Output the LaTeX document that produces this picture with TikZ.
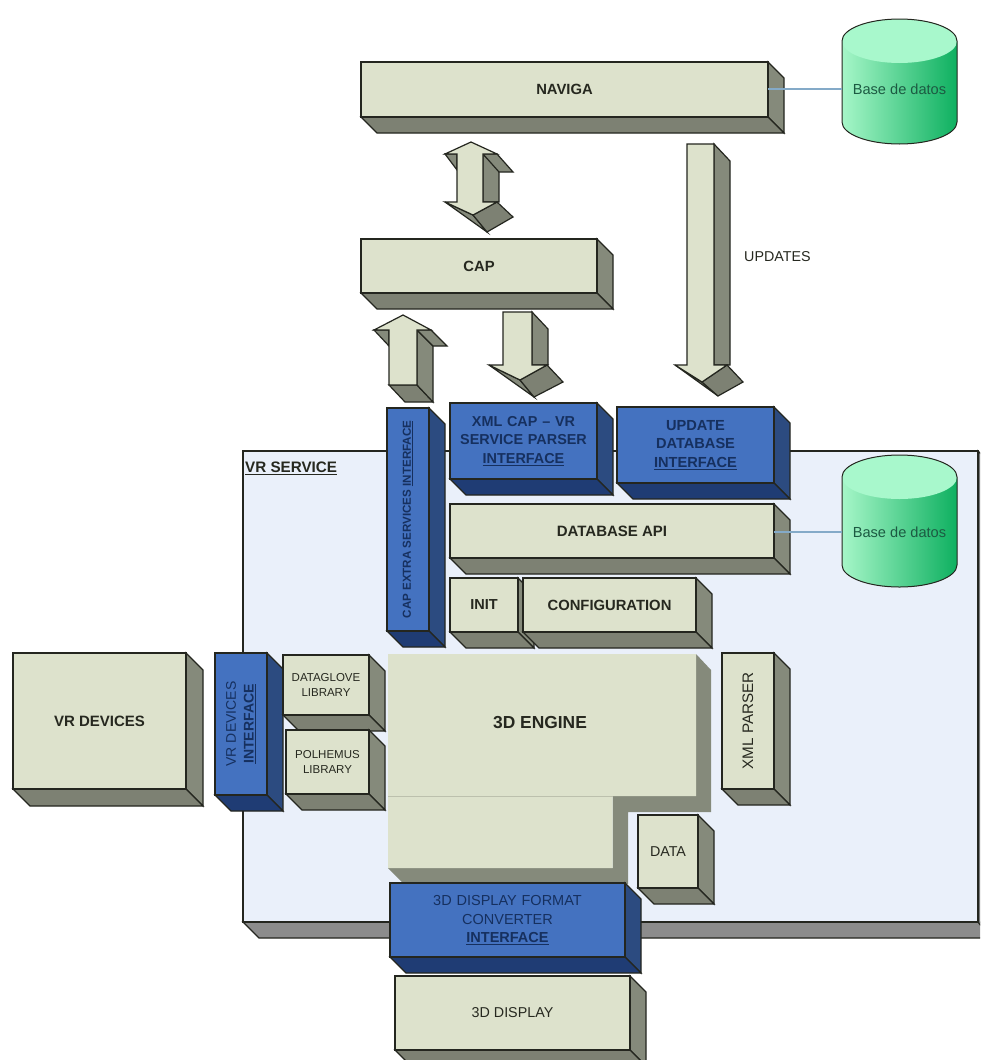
\documentclass[tikz,border=0pt]{standalone}
\usepackage{fontspec}
\setmainfont{Liberation Sans}
\usetikzlibrary{calc}
\definecolor{beige}{HTML}{DDE2CC}
\definecolor{beigeS}{HTML}{858A7B}
\definecolor{beigeB}{HTML}{7D8173}
\definecolor{blueF}{HTML}{4472C0}
\definecolor{blueS}{HTML}{2C4B80}
\definecolor{blueB}{HTML}{1F3C74}
\definecolor{blueT}{HTML}{16305F}
\definecolor{edgeC}{HTML}{24261F}
\definecolor{dbline}{HTML}{84AAC8}
\definecolor{txt}{HTML}{26281F}
\definecolor{dbtxt}{HTML}{1C5A42}
\definecolor{dbL}{RGB}{166,246,200}
\definecolor{dbM}{RGB}{112,232,164}
\definecolor{dbR}{RGB}{14,176,96}
\definecolor{dbT}{RGB}{168,248,204}
\newlength{\fsb}
\newcommand{\fs}[1]{\setlength{\fsb}{#1pt}\setlength{\fsb}{1.27\fsb}\fontsize{#1}{\fsb}\selectfont}
\tikzset{
  edge/.style={draw=edgeC,line width=1.2pt,line join=miter},
  side/.style={edge,fill=beigeS},
  under/.style={edge,fill=beigeB},
  front/.style={edge,fill=beige},
  bside/.style={edge,fill=blueS},
  bunder/.style={edge,fill=blueB},
  bfront/.style={edge,fill=blueF},
  lbl/.style={text=txt,align=center,inner sep=0pt,font=\fs{14.3}},
  blbl/.style={text=blueT,align=center,inner sep=0pt,font=\fs{14.5}},
  dblink/.style={draw=dbline,line width=1.2pt},
}
% name, x1, y1, x2, y2, depth, colour family (b or empty), label options, text
\newcommand{\solid}[9]{%
  \pgfmathsetmacro{\xa}{#2}\pgfmathsetmacro{\ya}{#3}%
  \pgfmathsetmacro{\xb}{#4}\pgfmathsetmacro{\yb}{#5}%
  \pgfmathsetmacro{\xc}{#4+#6}\pgfmathsetmacro{\yc}{#5+#6}%
  \pgfmathsetmacro{\xd}{#2+#6}\pgfmathsetmacro{\yd}{#3+#6}%
  \draw[#7side] (\xb,\ya) -- (\xc,\yd) -- (\xc,\yc) -- (\xb,\yb) -- cycle;%
  \draw[#7under] (\xa,\yb) -- (\xb,\yb) -- (\xc,\yc) -- (\xd,\yc) -- cycle;%
  \draw[#7front] (\xa,\ya) rectangle (\xb,\yb);%
  \coordinate (#1 east) at (\xb,{(\ya+\yb)/2});%
  \node[#8] (#1) at ({(\xa+\xb)/2},{(\ya+\yb)/2}) {#9};%
}
% name, top y, bottom y, text y, text
\newcommand{\drum}[5]{%
  \pgfmathsetmacro{\ta}{#2+22}\pgfmathsetmacro{\tb}{#3-22}%
  \path[shading=axis,shading angle=90,left color=dbL,middle color=dbM,right color=dbR]
     (842,\ta) -- (842,\tb) arc[start angle=180,end angle=0,x radius=57.5,y radius=22]
     -- (957,\ta) arc[start angle=0,end angle=-180,x radius=57.5,y radius=22] -- cycle;
  \fill[dbT] (899.5,\ta) ellipse[x radius=57.5,y radius=22];
  \draw[edgeC,line width=1pt] (842,\ta) -- (842,\tb) arc[start angle=180,end angle=0,x radius=57.5,y radius=22]
     -- (957,\ta) arc[start angle=0,end angle=-180,x radius=57.5,y radius=22];
  \node[inner sep=0pt,font=\fs{14.6},text=dbtxt,minimum width=115pt,minimum height=20pt] (#1) at (899.5,#4) {#5};
}
\begin{document}
\begin{tikzpicture}[x=1pt,y=-1pt]
\useasboundingbox (0,0) rectangle (980,1060);
\clip (0,0) rectangle (980,1060);
\fill[white] (0,0) rectangle (980,1060);

% VR SERVICE frame
\draw[edge,fill={rgb,255:red,140;green,140;blue,140}] (243,922) -- (259,938) -- (990,938) -- (990,922) -- cycle;
\draw[edge,fill={rgb,255:red,120;green,122;blue,122}] (978,451) -- (990,463) -- (990,938) -- (978,922) -- cycle;
\draw[edge,fill={rgb,255:red,234;green,240;blue,250}] (243,451) -- (978,451) -- (978,922) -- (243,922) -- cycle;
\node[anchor=west,inner sep=0pt,font=\fs{15.2}\bfseries,text=txt] (vrservice) at (245,468) {\underline{VR SERVICE}};

% databases
\drum{db1}{19}{144}{89}{Base de datos}
\drum{db2}{455}{587}{532}{Base de datos}

% NAVIGA and CAP
\solid{naviga}{361}{62}{768}{117}{16}{}{lbl,font=\fs{14.8}\bfseries}{NAVIGA}
\draw[dblink] (naviga east |- db1.west) -- (db1.west);
\solid{cap}{361}{239}{597}{293}{16}{}{lbl,font=\fs{14.8}\bfseries}{CAP}

% double arrow NAVIGA <-> CAP
\draw[side] (483,154) -- (499,170) -- (499,202) -- (483,202) -- cycle;
\draw[side] (445,154) -- (457,154) -- (457,170) -- cycle;
\draw[side] (483,154) -- (497,154) -- (513,172) -- (499,172) -- cycle;
\draw[side] (445,202) -- (473,215) -- (487,232) -- cycle;
\draw[under] (473,215) -- (497,202) -- (513,217) -- (487,232) -- cycle;
\draw[front] (471,142) -- (497,154) -- (483,154) -- (483,202) -- (497,202) -- (473,215) -- (445,202) -- (457,202) -- (457,154) -- (445,154) -- cycle;

% up arrow
\draw[under] (389,385) -- (417,385) -- (433,402) -- (405,402) -- cycle;
\draw[side] (417,330) -- (433,346) -- (433,402) -- (417,385) -- cycle;
\draw[side] (374,330) -- (389,330) -- (389,346) -- cycle;
\draw[side] (417,330) -- (431,330) -- (447,346) -- (433,346) -- cycle;
\draw[front] (403,315) -- (431,330) -- (417,330) -- (417,385) -- (389,385) -- (389,330) -- (374,330) -- cycle;

% down arrow to XML parser
\draw[side] (532,312) -- (548,329) -- (548,365) -- (532,365) -- cycle;
\draw[side] (489,365) -- (520,380) -- (534,397) -- cycle;
\draw[under] (520,380) -- (547,365) -- (563,382) -- (534,397) -- cycle;
\draw[front] (503,312) -- (532,312) -- (532,365) -- (547,365) -- (520,380) -- (489,365) -- (503,365) -- cycle;

% updates arrow
\draw[side] (714,144) -- (730,161) -- (730,365) -- (714,365) -- cycle;
\draw[side] (675,365) -- (702,382) -- (718,396) -- cycle;
\draw[under] (702,382) -- (727,365) -- (743,382) -- (718,396) -- cycle;
\draw[front] (687,144) -- (714,144) -- (714,365) -- (727,365) -- (702,382) -- (675,365) -- (687,365) -- cycle;
\node[lbl,anchor=west] (updates) at (744,257) {UPDATES};

% blue interfaces, upper
\solid{capx}{387}{408}{429}{631}{16}{b}{blbl,rotate=90,font=\fs{11.6}\bfseries}{CAP EXTRA SERVICES \underline{INTERFACE}}
\solid{xmlcap}{450}{403}{597}{479}{16}{b}{blbl,font=\fs{14.4}\bfseries,text width=147pt}{XML CAP -- VR\\SERVICE PARSER\\\underline{INTERFACE}}
\solid{updb}{617}{407}{774}{483}{16}{b}{blbl,font=\fs{14.6}\bfseries,text width=157pt}{UPDATE\\DATABASE\\\underline{INTERFACE}}

% database API
\solid{dbapi}{450}{504}{774}{558}{16}{}{lbl,font=\fs{15}\bfseries}{DATABASE API}
\draw[dblink] (dbapi east |- db2.west) -- (db2.west);

% init, configuration
\solid{init}{450}{578}{518}{632}{16}{}{lbl,font=\fs{14.5}\bfseries}{INIT}
\solid{config}{523}{578}{696}{632}{16}{}{lbl,font=\fs{14.8}\bfseries}{CONFIGURATION}

% XML parser
\solid{xmlp}{722}{653}{774}{789}{16}{}{lbl,rotate=90,font=\fs{15.2}}{XML PARSER}

% VR devices
\solid{vrdev}{13}{653}{186}{789}{17}{}{lbl,font=\fs{15}\bfseries}{VR DEVICES}
\solid{vrint}{215}{653}{267}{795}{16}{b}{blbl,rotate=90,font=\fs{14}}{VR DEVICES\\\textbf{\underline{INTERFACE}}}
\solid{glove}{283}{655}{369}{715}{16}{}{lbl,font=\fs{11.5}}{DATAGLOVE\\LIBRARY}
\solid{polh}{286}{730}{369}{794}{16}{}{lbl,font=\fs{11.5}}{POLHEMUS\\LIBRARY}

% 3D engine
\fill[beigeS] (612.5,796) -- (696,796) -- (696,654) -- (711,670) -- (711,812) -- (628,812) -- (628,884) -- (404,884) -- (388,868) -- (612.5,868) -- cycle;
\fill[beige] (388,654) -- (696,654) -- (696,796) -- (612.5,796) -- (612.5,868) -- (388,868) -- cycle;
\draw[line width=0.5pt,draw=beige!85!black] (388,796) -- (612.5,796);
\node[lbl,font=\fs{17.4}\bfseries] (engine) at (540,723) {3D ENGINE};

% data
\solid{data}{638}{815}{698}{888}{16}{}{lbl}{DATA}

% 3D display
\solid{disp}{395}{976}{630}{1050}{16}{}{lbl}{3D DISPLAY}
\solid{fmt}{390}{883}{625}{957}{16}{b}{blbl,text width=235pt}{3D DISPLAY FORMAT\\CONVERTER\\\textbf{\underline{INTERFACE}}}
\end{tikzpicture}
\end{document}
